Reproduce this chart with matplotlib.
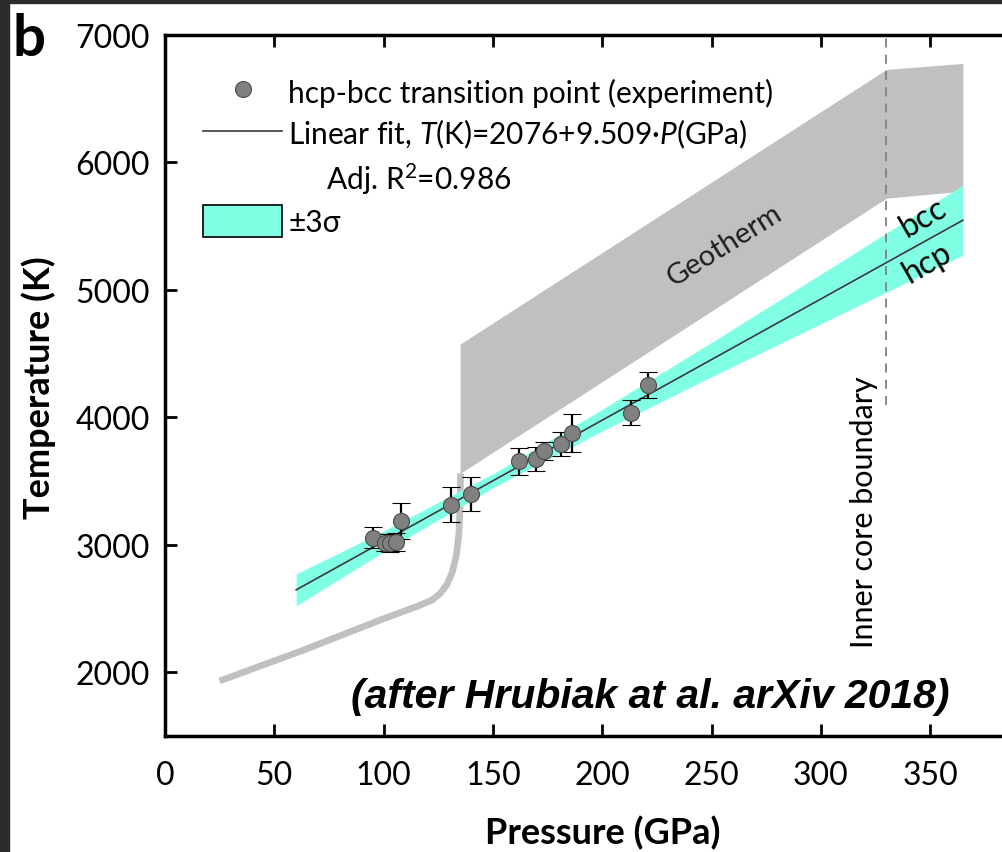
import matplotlib
matplotlib.use('Agg')
import matplotlib.pyplot as plt
from matplotlib.lines import Line2D
from matplotlib.patches import Patch, Rectangle
import numpy as np

plt.rcParams['font.family'] = ['Lato', 'DejaVu Sans']
plt.rcParams['mathtext.fontset'] = 'custom'
plt.rcParams['mathtext.rm'] = 'Lato'
plt.rcParams['mathtext.it'] = 'Lato:italic'

# hcp-bcc transition points (experiment)
pressure = [95.3, 100.6, 103.0, 105.7, 107.8, 130.8, 140.1, 162.1, 169.7, 173.5, 181.0, 186.3, 213.0, 221.0]
temperature = [3057, 3018, 3015, 3020, 3188, 3313, 3397, 3654, 3672, 3738, 3790, 3876, 4038, 4253]
temp_err = [80, 70, 70, 70, 140, 137, 135, 105, 95, 70, 95, 150, 100, 100]

# linear fit, T(K) = 2076 + 9.509 P(GPa)
fit_intercept = 2076
fit_slope = 9.509
fit_range = [60, 365]

# +/- 3 sigma band around the fit
band_pressure = [60, 100, 150, 200, 250, 300, 330, 365]
band_halfwidth = [125, 82, 55, 85, 135, 195, 232, 275]

# geotherm: mantle curve, then the core band
mantle_p = [25, 62, 100, 115, 122, 126, 129, 131.5, 133.3, 134.4, 135, 135.2]
mantle_t = [1932, 2165, 2420, 2515, 2565, 2620, 2690, 2790, 2920, 3080, 3300, 3560]
core_p = [135, 330, 365]
core_t_low = [3560, 5720, 5775]
core_t_high = [4575, 6730, 6777]

icb_pressure = 330
icb_t_range = [4100, 7000]

gray = '#c0c0c0'
cyan = '#80ffe4'

fig = plt.figure(figsize=(10.02, 8.53), dpi=100)
fig.patches.append(Rectangle((0, 1 - 4 / 853), 1, 4 / 853, transform=fig.transFigure,
                             color='#2b2b2b', zorder=10))
fig.patches.append(Rectangle((0, 0), 9 / 1002, 1, transform=fig.transFigure,
                             color='#2b2b2b', zorder=10))

ax = fig.add_axes([165 / 1002, 116 / 853, 874.4 / 1002, 701 / 853])
ax.set_xlim(0, 400)
ax.set_ylim(1500, 7000)

# geotherm
ax.plot(mantle_p, mantle_t, color=gray, lw=4.8, solid_capstyle='butt',
        solid_joinstyle='round', zorder=1)
ax.fill_between(core_p, core_t_low, core_t_high, color=gray, lw=0, zorder=1)

# fit and its band
bp = np.array(band_pressure)
fit_band = fit_intercept + fit_slope * bp
ax.fill_between(bp, fit_band - np.array(band_halfwidth), fit_band + np.array(band_halfwidth),
                color=cyan, lw=0, zorder=2)
fp = np.array(fit_range)
ax.plot(fp, fit_intercept + fit_slope * fp, color='#3a3a3a', lw=1.2, zorder=3)

ax.errorbar(pressure, temperature, yerr=temp_err, fmt='o', ms=11.5, mfc='#808080',
            mec='#4a4a4a', mew=0.8, ecolor='black', elinewidth=1.6, capsize=6.5,
            capthick=1.6, zorder=5)

# inner core boundary
ax.plot([icb_pressure, icb_pressure], icb_t_range, color='#808080', lw=1.3,
        ls=(0, (5, 4)), zorder=3)
ax.text(319.8, 3265, 'Inner core boundary', rotation=90, ha='center', va='center',
        fontsize=22, color='black')

ax.text(256, 5353, 'Geotherm', rotation=32, ha='center', va='center',
        rotation_mode='anchor', fontsize=21, color='#1e1e1e')
ax.text(346.7, 5573, 'bcc', rotation=30, ha='center', va='center',
        rotation_mode='anchor', fontsize=23)
ax.text(348.6, 5220, 'hcp', rotation=30, ha='center', va='center',
        rotation_mode='anchor', fontsize=23)

ax.text(221.9, 1812, '(after Hrubiak at al. arXiv 2018)', ha='center', va='center',
        fontsize=29.5, fontweight='bold', fontstyle='italic',
        family=['Liberation Sans', 'DejaVu Sans'])

# legend
handles = [
    Line2D([], [], ls='none', marker='o', ms=11.5, mfc='#808080', mec='#4a4a4a', mew=0.8),
    Line2D([], [], color='#3a3a3a', lw=1.2),
    Line2D([], [], ls='none'),
    Patch(facecolor=cyan, edgecolor='black', lw=1.2),
]
labels = [
    'hcp-bcc transition point (experiment)',
    'Linear fit, $T$(K)=2076+9.509·$P$(GPa)',
    '     Adj. R$^2$=0.986',
    '±3σ',
]
ax.legend(handles, labels, loc='upper left', bbox_to_anchor=(0.0435, 0.941),
          frameon=False, fontsize=21.5, handlelength=2.65, handleheight=1.24,
          handletextpad=0.2, labelspacing=0.32, borderpad=0, borderaxespad=0,
          numpoints=1)

# axes styling
ax.set_xticks(range(0, 351, 50))
ax.set_yticks(range(2000, 7001, 1000))
ax.tick_params(direction='in', length=8.5, width=2, top=True, right=True,
               labelsize=23)
ax.tick_params(axis='x', pad=17)
ax.tick_params(axis='y', pad=11)
for spine in ax.spines.values():
    spine.set_linewidth(2.5)

ax.set_xlabel('Pressure (GPa)', fontsize=26, fontweight='bold', va='center')
ax.xaxis.set_label_coords(0.501, -0.137)
ax.set_ylabel('Temperature (K)', fontsize=26, fontweight='bold', va='center')
ax.yaxis.set_label_coords(-0.145, 0.499)

fig.text(13 / 1002, 1 - 40 / 853, 'b', fontsize=42, fontweight='bold', va='center')

fig.savefig('out.png', dpi=100)
